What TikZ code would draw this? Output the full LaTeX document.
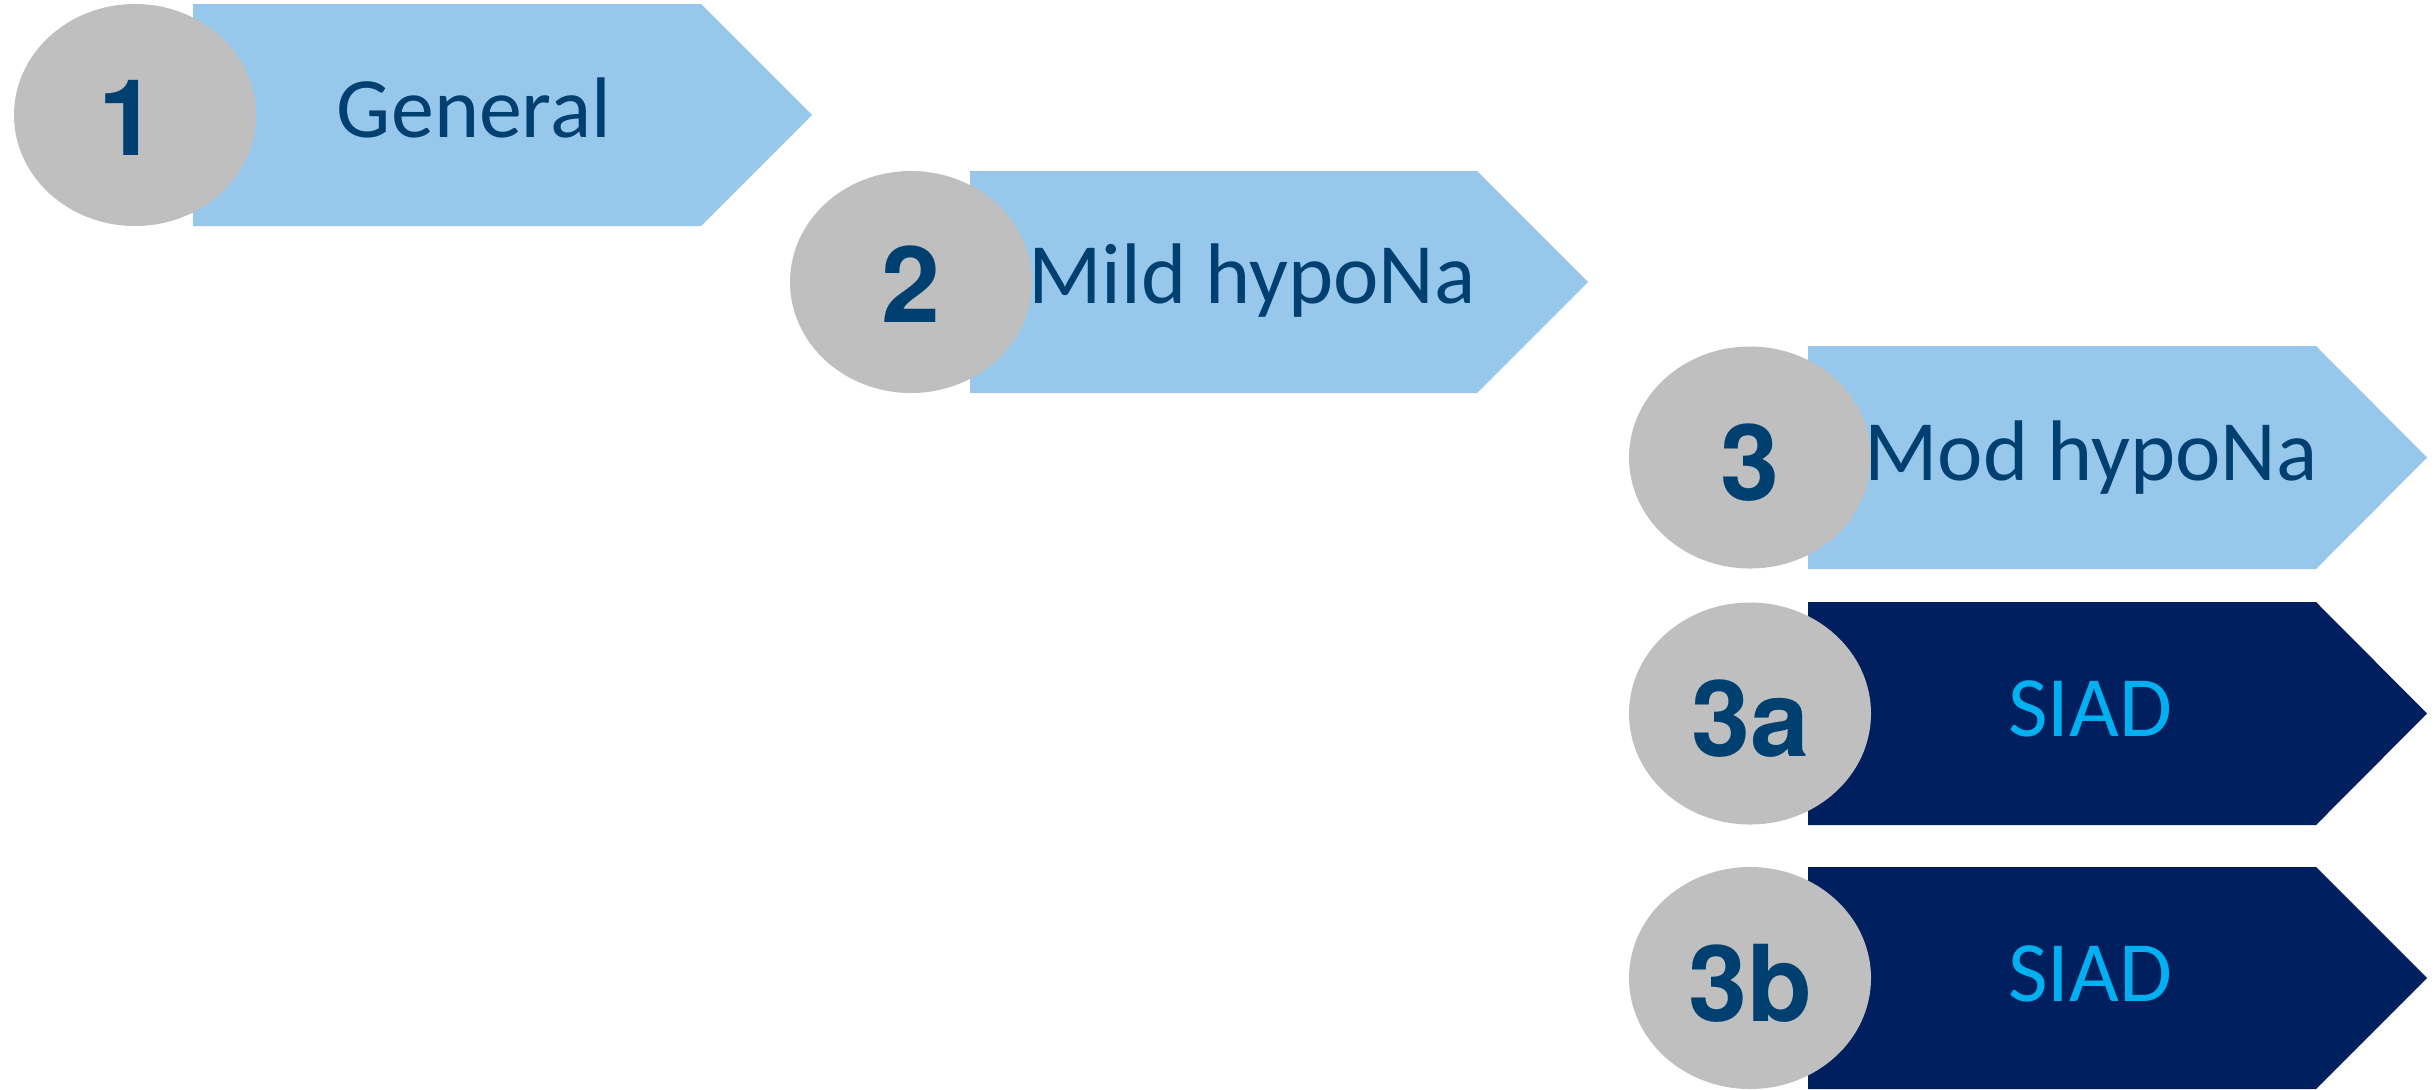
\documentclass[tikz,border=0pt]{standalone}
\usepackage{fontspec}
\usetikzlibrary{shapes.geometric}
\newfontfamily\numf{TeX Gyre Heros}
\newfontfamily\calf{Carlito}
\definecolor{lightb}{RGB}{151,200,235}
\definecolor{navyb}{RGB}{0,31,94}
\definecolor{greyc}{RGB}{191,191,191}
\definecolor{textb}{RGB}{0,64,113}
\definecolor{siadc}{RGB}{0,176,240}
\begin{document}
\begin{tikzpicture}[x=0.5pt,y=-0.5pt,
  bubble/.style={ellipse,fill=greyc,inner sep=0pt,minimum width=121pt,minimum height=111pt},
  numtxt/.style={anchor=base,inner sep=0pt,text=textb,font=\numf\bfseries\fontsize{53pt}{53pt}\selectfont},
  labtxt/.style={anchor=base,inner sep=0pt,text=textb,font=\calf\fontsize{43pt}{43pt}\selectfont},
  siadtxt/.style={anchor=base,inner sep=0pt,text=siadc,font=\calf\fontsize{43pt}{43pt}\selectfont}]
\useasboundingbox (0,0) rectangle (2435,1089);
% chevrons
\fill[lightb] (193,4) -- (701,4) -- (812,115) -- (701,226) -- (193,226) -- cycle;
\fill[lightb] (970,171) -- (1477,171) -- (1588,282) -- (1477,393) -- (970,393) -- cycle;
\fill[lightb] (1808,346) -- (2316,346) -- (2427,457.5) -- (2316,569) -- (1808,569) -- cycle;
\fill[navyb] (1808,602) -- (2316,602) -- (2427,713.5) -- (2316,825) -- (1808,825) -- cycle;
\fill[navyb] (1808,867) -- (2316,867) -- (2427,978) -- (2316,1089) -- (1808,1089) -- cycle;
% bubbles
\node[bubble] (e1) at (135,115) {};
\node[bubble] (e2) at (911,282) {};
\node[bubble] (e3) at (1750,457.5) {};
\node[bubble] (e3a) at (1750,713.5) {};
\node[bubble] (e3b) at (1750,978) {};
% numbers
\node[numtxt] (n1) at (128,155) {1};
\node[numtxt] (n2) at (911,322) {2};
\node[numtxt] (n3) at (1750,500) {3};
\node[numtxt] (n3a) at (1750,756) {3a};
\node[numtxt] (n3b) at (1750,1021) {3b};
% labels
\node[labtxt] (t1) at (474,137) {General};
\node[labtxt] (t2) at (1252,303) {Mild hypoNa};
\node[labtxt] (t3) at (2091,480) {Mod hypoNa};
\node[siadtxt] (t3a) at (2090,736) {SIAD};
\node[siadtxt] (t3b) at (2090,1001) {SIAD};
\end{tikzpicture}
\end{document}
